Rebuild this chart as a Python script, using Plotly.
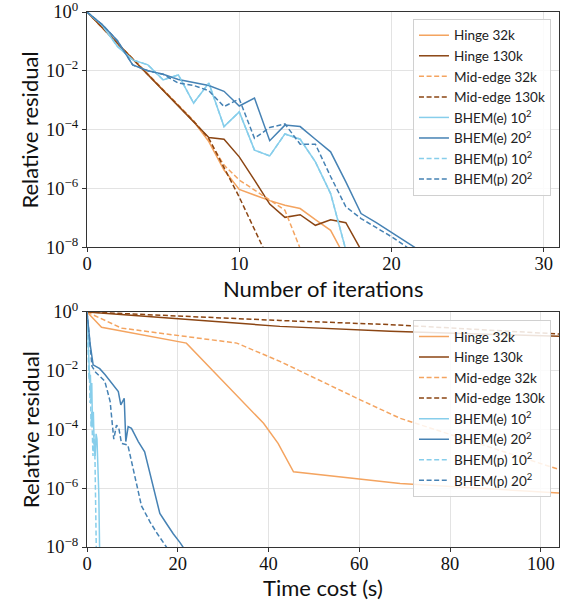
import plotly.graph_objects as go

# ---------------- data (log10 of relative residual) ----------------
series_names = ["Hinge 32k", "Hinge 130k", "Mid-edge 32k", "Mid-edge 130k",
                "BHEM(e) 10<sup>2</sup>", "BHEM(e) 20<sup>2</sup>",
                "BHEM(p) 10<sup>2</sup>", "BHEM(p) 20<sup>2</sup>"]

# top panel: residual vs iteration
hinge32k_iter = [0, -0.53, -1.06, -1.58, -2.10, -2.63, -3.17, -3.72, -4.41, -5.38,
                 -6.04, -6.23, -6.42, -6.58, -6.69, -7.07, -7.43, -8.40]
hinge130k_iter = [0, -0.53, -1.06, -1.60, -2.13, -2.66, -3.20, -3.72, -4.27, -4.33,
                  -4.93, -5.72, -6.54, -6.99, -6.90, -7.26, -7.07, -7.17, -8.10]
mid32k_iter = [0, -0.53, -1.06, -1.59, -2.12, -2.65, -3.18, -3.70, -4.36, -5.21,
               -5.72, -6.05, -6.40, -6.75, -8.05]
mid130k_iter = [0, -0.53, -1.06, -1.60, -2.13, -2.66, -3.20, -3.72, -4.30, -5.30,
                -6.30, -7.40, -8.50]
bhem_e10_iter = [0, -0.45, -1.17, -1.63, -1.80, -2.31, -2.14, -3.10, -2.42, -3.90,
                 -3.40, -4.70, -4.90, -4.15, -4.33, -5.10, -6.18, -8.10]
bhem_e20_iter = [0, -0.43, -0.98, -1.80, -2.00, -2.12, -2.30, -2.40, -2.50, -2.70,
                 -3.20, -2.93, -4.38, -3.85, -3.90, -4.33, -4.76, -5.78, -6.86, -7.17,
                 -7.50, -7.83, -8.17]
bhem_p10_iter = [0, -0.45, -1.17, -1.63, -1.80, -2.31, -2.14, -3.10, -2.42, -3.90,
                 -3.40, -4.70, -4.90, -4.15, -4.33, -5.10, -6.18, -8.10]
bhem_p20_iter = [0, -0.43, -0.98, -1.80, -2.00, -2.12, -2.42, -2.50, -2.68, -3.22,
                 -2.96, -4.30, -3.93, -3.81, -4.50, -4.50, -5.60, -6.63, -7.03, -7.35,
                 -7.65, -8.00, -8.30]

# bottom panel: residual vs time cost (s)
hinge32k_t = [0, 3.2, 21.9, 38.9, 42.1, 45.5, 69.0, 104.0]
hinge32k_time = [0, -0.52, -1.06, -3.79, -4.47, -5.44, -5.84, -6.16]
hinge130k_t = [0, 42.5, 66.8, 104.0]
hinge130k_time = [0, -0.49, -0.66, -0.83]
mid32k_t = [0, 7.6, 33.0, 42.5, 60.2, 69.0, 104.0]
mid32k_time = [0, -0.55, -1.06, -1.68, -2.99, -3.62, -5.36]
mid130k_t = [0, 42.5, 66.8, 104.0]
mid130k_time = [0, -0.29, -0.43, -0.75]
bhem_e10_t = [0, 0.1, 0.2, 0.3, 0.45, 0.6, 0.75, 0.9, 1.05, 1.2, 1.4, 1.6, 1.8, 2.0,
              2.2, 2.4, 2.6, 2.78]
bhem_e10_time = [0, -0.45, -1.17, -1.63, -1.80, -2.31, -2.14, -3.10, -2.42, -3.90,
                 -3.40, -4.70, -4.90, -4.15, -4.33, -5.10, -6.18, -8.10]
bhem_e20_t = [0, 0.3, 0.7, 1.35, 2.8, 4.0, 5.4, 6.9, 7.45, 8.2, 8.55, 9.07, 9.8,
              11.3, 12.7, 14.4, 16.05, 17.5, 19.0, 20.5, 22.0]
bhem_e20_time = [0, -0.45, -1.10, -1.80, -1.93, -2.14, -2.42, -2.71, -3.16, -2.94,
                 -4.41, -3.90, -3.96, -4.41, -4.76, -5.80, -6.86, -7.20, -7.55, -7.85,
                 -8.20]
bhem_p10_t = [0, 0.08, 0.15, 0.22, 0.33, 0.44, 0.55, 0.66, 0.77, 0.88, 1.03, 1.18,
              1.32, 1.47, 1.62, 1.77, 1.92, 2.05]
bhem_p10_time = [0, -0.45, -1.17, -1.63, -1.80, -2.31, -2.14, -3.10, -2.42, -3.90,
                 -3.40, -4.70, -4.90, -4.15, -4.33, -5.10, -6.18, -8.10]
bhem_p20_t = [0, 0.25, 0.6, 1.1, 1.9, 3.0, 3.9, 4.6, 5.1, 5.9, 6.5, 7.0, 7.6, 9.0,
              10.0, 11.3, 12.0, 13.9, 15.5, 17.5, 19.0]
bhem_p20_time = [0, -0.45, -1.10, -1.85, -2.05, -2.20, -2.35, -2.75, -3.05, -4.33,
                 -3.85, -3.95, -4.47, -4.53, -5.25, -6.10, -6.60, -7.15, -7.55, -8.00,
                 -8.30]

ytick_exps = [0, -2, -4, -6, -8]
xticks_top = [0, 10, 20, 30]
xticks_bot = [0, 20, 40, 60, 80, 100]

# ---------------- styling ----------------
colors = ["#F4A460", "#8B4513", "#F4A460", "#8B4513",
          "#87CEEB", "#4682B4", "#87CEEB", "#4682B4"]
dashes = ["solid", "solid", "5px,2.6px", "5px,2.6px",
          "solid", "solid", "5px,2.6px", "5px,2.6px"]

top_data = [hinge32k_iter, hinge130k_iter, mid32k_iter, mid130k_iter,
            bhem_e10_iter, bhem_e20_iter, bhem_p10_iter, bhem_p20_iter]
bot_data = [(hinge32k_t, hinge32k_time), (hinge130k_t, hinge130k_time),
            (mid32k_t, mid32k_time), (mid130k_t, mid130k_time),
            (bhem_e10_t, bhem_e10_time), (bhem_e20_t, bhem_e20_time),
            (bhem_p10_t, bhem_p10_time), (bhem_p20_t, bhem_p20_time)]

fig = go.Figure()
for name, vals, c, d in zip(series_names, top_data, colors, dashes):
    fig.add_trace(go.Scatter(
        x=list(range(len(vals))), y=[10 ** v for v in vals], mode="lines",
        name=name, line=dict(color=c, width=1.5, dash=d),
        xaxis="x", yaxis="y", legend="legend"))
for name, (t, vals), c, d in zip(series_names, bot_data, colors, dashes):
    fig.add_trace(go.Scatter(
        x=t, y=[10 ** v for v in vals], mode="lines",
        name=name, line=dict(color=c, width=1.5, dash=d),
        xaxis="x2", yaxis="y2", legend="legend2"))

tick_font = dict(family="Liberation Serif", size=18.5, color="#111")
title_font = dict(family="Lato", size=22, color="#111")
yticktext = ["10<sup>%d</sup>" % e if e == 0 else "10<sup>\u2212%d</sup>" % (-e)
             for e in ytick_exps]

common_axis = dict(showline=True, linecolor="#333", linewidth=1.3, mirror=True,
                   ticks="outside", ticklen=4, tickcolor="#333", tickwidth=1,
                   showgrid=True, gridcolor="#e3e3e3", gridwidth=1,
                   zeroline=False, tickfont=tick_font, automargin=False,
                   ticklabeloverflow="allow")

legend_common = dict(font=dict(family="Lato", size=13.5, color="#222"),
                     bgcolor="rgba(255,255,255,0.85)", bordercolor="#d0d0d0",
                     borderwidth=1, xanchor="right", yanchor="top",
                     itemwidth=30, tracegroupgap=0)

# plot area in pixels: x 87..559, y 12..547 (top panel 12..247, bottom 312..547)
titles = [
    dict(text="Number of iterations", x=0.5, y=0.484, textangle=0),
    dict(text="Time cost (s)", x=0.5, y=-0.075, textangle=0),
    dict(text="Relative residual", x=-0.121, y=0.78, textangle=-90),
    dict(text="Relative residual", x=-0.121, y=0.22, textangle=-90),
]
annotations = [dict(text=a["text"], x=a["x"], y=a["y"], xref="paper", yref="paper",
                    textangle=a["textangle"], showarrow=False, font=title_font,
                    xanchor="center", yanchor="middle") for a in titles]

fig.update_layout(
    width=572, height=605,
    margin=dict(l=87, r=13, t=12, b=58, autoexpand=False),
    paper_bgcolor="white", plot_bgcolor="white",
    xaxis=dict(domain=[0, 1], anchor="y", range=[0, 31], tickvals=xticks_top,
               ticklabelstandoff=-4, **common_axis),
    yaxis=dict(domain=[0.5607, 1], anchor="x", type="log", range=[-8, 0],
               tickvals=[10 ** e for e in ytick_exps], ticktext=yticktext,
               **common_axis),
    xaxis2=dict(domain=[0, 1], anchor="y2", range=[0, 104], tickvals=xticks_bot,
                ticklabelstandoff=-4, **common_axis),
    yaxis2=dict(domain=[0, 0.4393], anchor="x2", type="log", range=[-8, 0],
                tickvals=[10 ** e for e in ytick_exps], ticktext=yticktext,
                **common_axis),
    legend=dict(x=0.983, y=0.987, **legend_common),
    legend2=dict(x=0.983, y=0.424, **legend_common),
    annotations=annotations,
)

fig.write_html("out.html", config={"displayModeBar": False},
               post_script="document.body.style.margin='0px';"
                           "document.body.style.padding='0px';")
